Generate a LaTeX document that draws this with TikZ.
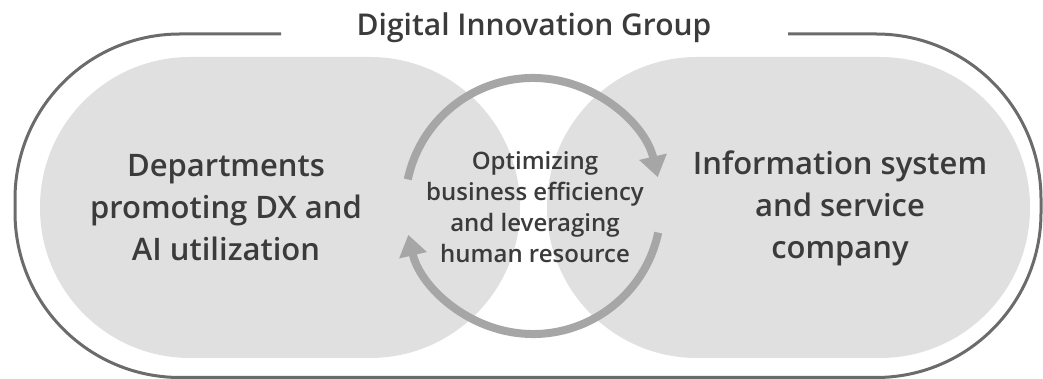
\documentclass[tikz,border=0pt]{standalone}
\usepackage{fontspec}
\IfFontExistsTF{Open Sans Semibold}{\setmainfont{Open Sans Semibold}}{%
  \IfFontExistsTF{Open Sans SemiBold}{\setmainfont{Open Sans SemiBold}}{%
    \setmainfont{Open Sans}[FakeBold=1.3]}}
\usetikzlibrary{arrows.meta}
\definecolor{textgris}{HTML}{3B3B3B}
\definecolor{marco}{HTML}{6B6B6B}
\definecolor{relleno}{HTML}{E0E0E0}
\definecolor{flecha}{HTML}{A6A6A6}

\begin{document}
\begin{tikzpicture}[x=1pt,y=1pt,line width=3pt,>={Triangle[width=27pt,length=21pt]},
  titulo/.style={text=textgris,font=\fontsize{30}{36}\selectfont},
  bloque/.style={text=textgris,align=center,font=\fontsize{31}{42}\selectfont},
  centro/.style={text=textgris,align=center,font=\fontsize{24}{31}\selectfont}]
  \useasboundingbox (0,0) rectangle (1043,379);
  % zonas grises
  \fill[relleno,rounded corners=150pt] (40,21) rectangle (520,322);
  \fill[relleno,rounded corners=150pt] (547,21) rectangle (1030,322);
  % marco exterior abierto arriba para el titulo
  \draw[marco,rounded corners=165pt] (281,345) -- (15,345) -- (15,1.5) -- (1041,1.5) -- (1041,345) -- (788,345);
  \node[titulo] (grupo) at (534,351) {Digital Innovation Group};
  % textos
  \node[bloque] (depto) at (226,171) {Departments\\promoting DX and\\AI utilization};
  \node[bloque] (empresa) at (840,171) {Information system\\and service\\company};
  \node[centro] (meta) at (535,172) {Optimizing\\business efficiency\\and leveraging\\human resource};
  % flechas circulares
  \coordinate (ciclo) at (533,173);
  \draw[flecha,line width=8pt,->] ([shift={(168:128)}]ciclo) arc[start angle=168,end angle=13,radius=128];
  \draw[flecha,line width=8pt,->] ([shift={(-12:128)}]ciclo) arc[start angle=-12,end angle=-167,radius=128];
\end{tikzpicture}
\end{document}
